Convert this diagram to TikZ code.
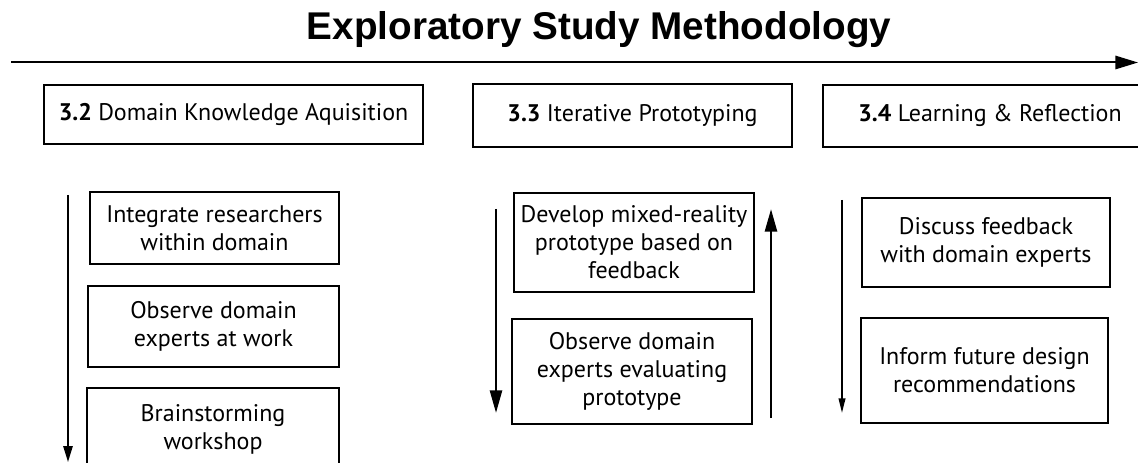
\documentclass[tikz,border=0pt]{standalone}
\usepackage{fontspec}
\setmainfont{PT Sans}
\newfontfamily\headfont{Liberation Sans}
\usetikzlibrary{arrows.meta}

\begin{document}
\begin{tikzpicture}[x=0.75pt,y=-0.75pt,
    wh/.style 2 args={minimum width=#1*0.75pt, minimum height=#2*0.75pt},
    phase/.style={draw, line width=2pt, inner sep=0pt, font=\fontsize{18}{21}\selectfont},
    task/.style={draw, line width=1.6pt, inner sep=0pt, align=center, font=\fontsize{18}{21}\selectfont},
    flow/.style={line width=1.3pt, -{Triangle[length=12pt,width=7pt]}},
    loopflow/.style={line width=2pt, -{Triangle[length=17pt,width=9pt]}}]

   \useasboundingbox (0,0) rectangle (1138,463);

   % title and time line
   \node[anchor=base] (title) at (599,40) {\headfont\fontsize{29}{32}\selectfont\bfseries Exploratory Study Methodology};
   \coordinate (tstart) at (11,62.5);
   \coordinate (tend) at (1138,62.5);
   \draw[line width=1.5pt, -{Triangle[length=17pt,width=10pt]}] (tstart) -- (tend);

   % the three phases
   \node[phase, wh={379}{59}] (p32) at (233.5,114.5) {\textbf{3.2} Domain Knowledge Aquisition};
   \node[phase, wh={319}{63}] (p33) at (632.5,115.5) {\textbf{3.3} Iterative Prototyping};
   \node[phase, wh={334}{62}] (p34) at (990,116) {\textbf{3.4} Learning \& Reflection};

   % 3.2
   \node[task, wh={249}{72}] (integrate) at (214.5,228) {Integrate researchers\\within domain};
   \node[task, wh={251}{81}] (observe) at (213.5,326.5) {Observe domain\\experts at work};
   \node[task, wh={252}{82}] (brainstorm) at (213,429) {Brainstorming\\workshop};
   \coordinate (a32top) at (68,195);
   \coordinate (a32bot) at (68,462);
   \draw[flow] (a32top) -- (a32bot);

   % 3.3
   \node[task, wh={240}{99}] (develop) at (634,242.5) {Develop mixed-reality\\prototype based on\\feedback};
   \node[task, wh={240}{105}] (evaluate) at (632,371.5) {Observe domain\\experts evaluating\\prototype};
   \coordinate (a33top) at (496,209);
   \coordinate (a33bot) at (496,413);
   \draw[loopflow] (a33top) -- (a33bot);
   \coordinate (b33bot) at (771,418);
   \coordinate (b33top) at (771,209);
   \draw[loopflow] (b33bot) -- (b33top);

   % 3.4
   \node[task, wh={248}{89}] (discuss) at (986,242.5) {Discuss feedback\\with domain experts};
   \node[task, wh={247}{105}] (inform) at (984.5,370.5) {Inform future design\\recommendations};
   \coordinate (a34top) at (842,200);
   \coordinate (a34bot) at (842,413);
   \draw[flow, -{Triangle[length=11pt,width=5pt]}] (a34top) -- (a34bot);
\end{tikzpicture}
\end{document}
